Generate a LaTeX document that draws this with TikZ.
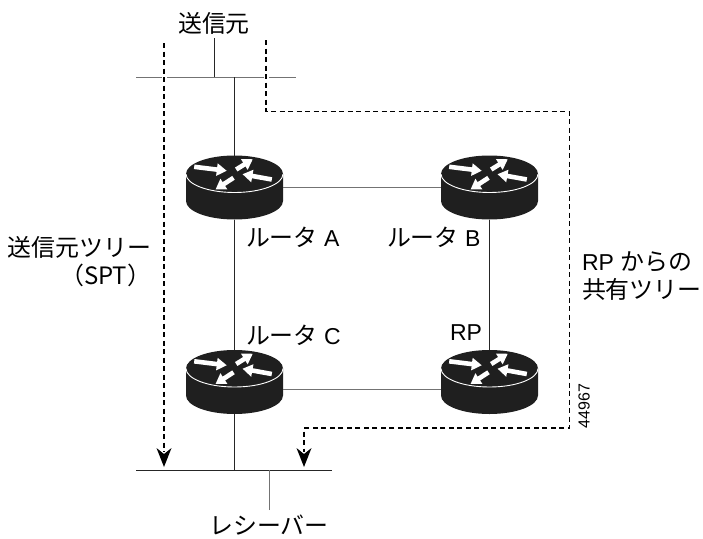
\documentclass[tikz,border=0pt]{standalone}
\usepackage{fontspec}
\setmainfont{Liberation Sans}
\newfontfamily\jpfont[Scale=1.04]{Noto Sans CJK JP}
\usetikzlibrary{arrows.meta}
\tikzset{
    router/.style={rectangle,minimum width=97pt,minimum height=64pt,inner sep=0pt,outer sep=0pt,
        path picture={
            \fill[black!88] (-48.5,-13.5) -- (-48.5,13.5) arc[start angle=180,end angle=0,x radius=48.5,y radius=18.5]
                -- (48.5,-13.5) arc[start angle=0,end angle=-180,x radius=48.5,y radius=18.5] -- cycle;
            \draw[white,line width=0.9pt] (-48.5,-13.5) arc[start angle=180,end angle=0,x radius=48.5,y radius=18.5];
            \foreach \fx/\fy/\tx/\ty in {-40.3/-20.7/-7.7/-16.7, 37.3/-8/8/-13.3, 1.7/-18/18.3/-28.3, -1/-9.7/-19/2}
                \draw[white,line width=4.6pt,-{Triangle[width=12pt,length=10pt]}] (\fx,\fy) -- (\tx,\ty);
        }},
    label/.style={font=\fontsize{23}{28}\selectfont,inner sep=0pt,outer sep=0pt},
    wire/.style={line width=0.8pt,black!85},
    lightwire/.style={line width=0.9pt,black!55},
    flow/.style={line width=1.1pt,black,dash pattern=on 5pt off 3.5pt}
}
\begin{document}
\begin{tikzpicture}[x=1pt,y=-1pt]
    \useasboundingbox (0,0) rectangle (703,538);
    \node[router] (rA) at (234.5,187.5) {};
    \node[router] (rB) at (489.5,187.5) {};
    \node[router] (rC) at (234.5,382) {};
    \node[router] (rD) at (489.5,382) {};
    \node[label,anchor=center] (src) at (214,23) {\jpfont 送信元};
    \node[label,anchor=center] (recv) at (269,525) {\jpfont レシーバー};
    \node[label,anchor=west] (lA) at (246,237) {{\jpfont ルータ} A};
    \node[label,anchor=west] (lB) at (387,237) {{\jpfont ルータ} B};
    \node[label,anchor=west] (lC) at (246,335) {{\jpfont ルータ} C};
    \node[label,anchor=west] (lRP) at (450,333) {RP};
    \node[label,anchor=east,align=right] (lSPT) at (151,261.5) {\jpfont 送信元ツリー\\\jpfont （SPT）};
    \node[label,anchor=west,align=left] (lShared) at (582,276) {RP {\jpfont からの}\\\jpfont 共有ツリー};
    \node[font=\fontsize{16}{18}\selectfont,rotate=90,inner sep=0pt] (num) at (584,406) {44967};
    \coordinate (busTopL) at (136,77);
    \coordinate (busTopR) at (296,77);
    \coordinate (busBotL) at (136,470);
    \coordinate (busBotR) at (332,470);
    \coordinate (srcEnd) at (214,38);
    \coordinate (recvEnd) at (269,510);
    \coordinate (sptStart) at (164,43);
    \coordinate (sptEnd) at (164,467);
    \coordinate (rptStart) at (266,40);
    \coordinate (rptA) at (266,111.5);
    \coordinate (rptB) at (569.5,111.5);
    \coordinate (rptC) at (569.5,428);
    \coordinate (rptD) at (304,428);
    \coordinate (rptEnd) at (304,467);
    \draw[lightwire] (busTopL) -- (busTopR);
    \draw[wire] (busBotL) -- (busBotR);
    \draw[wire] (srcEnd) -- (srcEnd |- busTopL);
    \draw[lightwire] (recvEnd) -- (recvEnd |- busBotL);
    \draw[wire] (rA.north) -- (rA |- busTopL);
    \draw[wire] (rA.south) -- (rC.north);
    \draw[wire] (rC.south) -- (rC |- busBotL);
    \draw[lightwire] (rA.east) -- (rB.west);
    \draw[wire] (rB.south) -- (rD.north);
    \draw[lightwire] ([yshift=-7pt]rC.east) -- ([yshift=-7pt]rD.west);
    \draw[white,line width=4pt] (sptStart |- busTopL) ++(-2.5,0) -- ++(5,0);
    \draw[white,line width=4pt] (rptStart |- busTopL) ++(-2.5,0) -- ++(5,0);
    \draw[flow] (sptStart) -- (sptEnd |- 0,452);
    \draw[flow] (rptStart) -- (rptA) -- (rptB) -- (rptC) -- (rptD) -- (rptD |- 0,452);
    \fill (sptEnd) -- ++(-7.5,-19) -- ++(7.5,6) -- ++(7.5,-6) -- cycle;
    \fill (rptEnd) -- ++(-7.5,-19) -- ++(7.5,6) -- ++(7.5,-6) -- cycle;
\end{tikzpicture}
\end{document}
